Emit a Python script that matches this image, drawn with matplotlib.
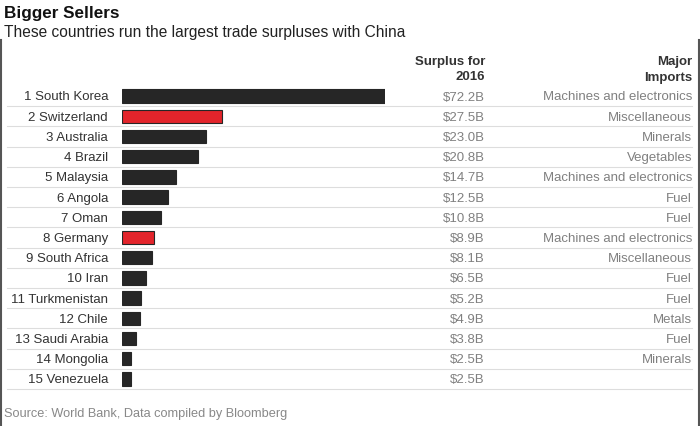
import matplotlib.pyplot as plt
import matplotlib.transforms as mtransforms
from matplotlib.lines import Line2D

plt.rcParams['font.family'] = ['Liberation Sans', 'DejaVu Sans']

countries = ['South Korea', 'Switzerland', 'Australia', 'Brazil', 'Malaysia',
             'Angola', 'Oman', 'Germany', 'South Africa', 'Iran',
             'Turkmenistan', 'Chile', 'Saudi Arabia', 'Mongolia', 'Venezuela']
surplus = [72.2, 27.5, 23.0, 20.8, 14.7, 12.5, 10.8, 8.9, 8.1, 6.5,
           5.2, 4.9, 3.8, 2.5, 2.5]
imports = ['Machines and electronics', 'Miscellaneous', 'Minerals', 'Vegetables',
           'Machines and electronics', 'Fuel', 'Fuel', 'Machines and electronics',
           'Miscellaneous', 'Fuel', 'Fuel', 'Metals', 'Fuel', 'Minerals', '']
highlight = ['Switzerland', 'Germany']

W, H = 700, 426
fig = plt.figure(figsize=(W / 100, H / 100), dpi=100)
fig.patch.set_facecolor('white')

# bar area in pixels: x 122..385, rows centred 96..379
row_h = (379 - 96) / 14
top = 96 - row_h / 2
bottom = 379 + row_h / 2
ax = fig.add_axes([122 / W, 1 - bottom / H, (385 - 122) / W, (bottom - top) / H])
ax.set_xlim(0, max(surplus))
ax.set_ylim(len(countries) - 0.5, -0.5)
ax.axis('off')

colors = ['#e3242b' if c in highlight else '#262626' for c in countries]
ax.barh(range(len(countries)), surplus, height=0.66, color=colors,
        edgecolor='#262626', linewidth=0.8)

tr = mtransforms.blended_transform_factory(fig.transFigure, ax.transData)
for i, (c, v, imp) in enumerate(zip(countries, surplus, imports)):
    ax.text(108 / W, i, f'{i + 1} {c}', transform=tr, ha='right', va='center_baseline',
            fontsize=9.5, color='#333333')
    ax.text(485 / W, i, f'${v:.1f}B', transform=tr, ha='right', va='center_baseline',
            fontsize=9.5, color='#808080')
    ax.text(692 / W, i, imp, transform=tr, ha='right', va='center_baseline',
            fontsize=9.5, color='#808080')
    ax.add_line(Line2D([7 / W, 692 / W], [i + 0.5, i + 0.5], transform=tr,
                       color='#dddddd', linewidth=0.8, clip_on=False))

# headers
hdr = dict(ha='right', va='center_baseline', fontsize=9.5, fontweight='bold', color='#333333')
fig.text(485 / W, 1 - 60 / H, 'Surplus for', **hdr)
fig.text(485 / W, 1 - 76 / H, '2016', **hdr)
fig.text(692 / W, 1 - 60 / H, 'Major', **hdr)
fig.text(692 / W, 1 - 76 / H, 'Imports', **hdr)

fig.text(4 / W, 1 - 12 / H, 'Bigger Sellers', ha='left', va='center_baseline',
         fontsize=12.3, fontweight='bold', color='#111111')
fig.text(4 / W, 1 - 31 / H, 'These countries run the largest trade surpluses with China',
         ha='left', va='center_baseline', fontsize=11.2, color='#222222')
fig.text(4 / W, 1 - 413 / H, 'Source: World Bank, Data compiled by Bloomberg',
         ha='left', va='center_baseline', fontsize=9.2, color='#888888')

# side frame
for x in (1, 698.5):
    fig.add_artist(Line2D([x / W, x / W], [0, 1 - 40 / H], transform=fig.transFigure,
                          color='#555555', linewidth=1.5))

fig.savefig('out.png', dpi=100, facecolor='white')
